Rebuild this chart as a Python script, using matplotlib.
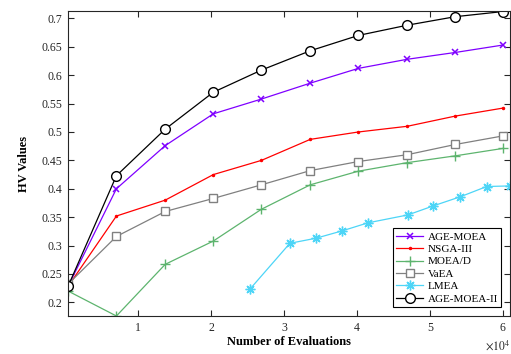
import numpy as np
import matplotlib
matplotlib.use("Agg")
import matplotlib.pyplot as plt
from matplotlib.ticker import FuncFormatter

plt.rcParams["font.family"] = ["Liberation Serif", "DejaVu Serif"]
plt.rcParams["mathtext.fontset"] = "stix"

# evaluations (shared by most algorithms) and HV values
evals = [360, 7000, 13700, 20300, 26900, 33600, 40200, 46900, 53500, 60000]
evals_lmea = [25300, 30800, 34400, 38000, 41500, 47000, 50500, 54200, 57800, 61000]

hv_agemoea = [0.228, 0.400, 0.476, 0.532, 0.558, 0.586, 0.612, 0.628, 0.640, 0.653]
hv_nsga3 = [0.228, 0.352, 0.380, 0.425, 0.450, 0.487, 0.500, 0.510, 0.528, 0.542]
hv_moead = [0.220, 0.176, 0.267, 0.308, 0.364, 0.407, 0.431, 0.446, 0.458, 0.471]
hv_vaea = [0.232, 0.316, 0.360, 0.383, 0.407, 0.432, 0.448, 0.460, 0.478, 0.493]
hv_lmea = [0.223, 0.304, 0.313, 0.326, 0.340, 0.354, 0.370, 0.386, 0.404, 0.405]
hv_agemoea2 = [0.228, 0.423, 0.505, 0.570, 0.609, 0.643, 0.670, 0.688, 0.703, 0.712]

fig = plt.figure(figsize=(5.11, 3.54), dpi=100)
ax = fig.add_axes([68 / 511, 38 / 354, 442 / 511, 305 / 354])

lw = 0.9
ax.plot(evals, hv_agemoea, color="#7F00FF", marker="x", ms=5, mew=1.1, lw=lw, label="AGE-MOEA")
ax.plot(evals, hv_nsga3, color="#FF0000", marker=".", ms=3, lw=lw, label="NSGA-III")
ax.plot(evals, hv_moead, color="#5DB46E", marker="+", ms=7, mew=1.0, lw=lw, label="MOEA/D")
ax.plot(evals, hv_vaea, color="#808080", marker="s", ms=6, mfc="white", mew=1.0, lw=lw, label="VaEA")
ax.plot(evals_lmea, hv_lmea, color="#4DD5F7", marker=(8, 2, 0), ms=7, mew=1.0, lw=lw, label="LMEA")
ax.plot(evals, hv_agemoea2, color="black", marker="o", ms=7, mfc="white", mew=1.0, lw=lw, label="AGE-MOEA-II")

ax.set_xlim(360, 61000)
ax.set_ylim(0.176, 0.713)
ax.set_xticks([10000, 20000, 30000, 40000, 50000, 60000])
ax.set_yticks(np.arange(0.2, 0.701, 0.05))
ax.xaxis.set_major_formatter(FuncFormatter(lambda v, p: f"{v / 1e4:g}"))
ax.yaxis.set_major_formatter(FuncFormatter(lambda v, p: f"{v:g}"))

axcol = "#262626"
for s in ax.spines.values():
    s.set_color(axcol)
    s.set_linewidth(0.8)
ax.tick_params(direction="in", top=True, right=True, length=4, width=0.8,
               colors=axcol, labelsize=8.5, pad=4)

ax.set_xlabel("Number of Evaluations", fontweight="bold", fontsize=9, labelpad=2)
ax.set_ylabel("HV Values", fontweight="bold", fontsize=9, labelpad=8)
ax.text(1.0, -0.075, r"$\times10^{4}$", transform=ax.transAxes, ha="right", va="top",
        fontsize=8.5, color=axcol)

leg = ax.legend(loc="lower right", fontsize=8, frameon=True, fancybox=False,
                edgecolor="black", framealpha=1, handlelength=2.4, labelspacing=0.24,
                borderpad=0.3, handletextpad=0.4, borderaxespad=0.8)
leg.get_frame().set_linewidth(0.8)

fig.savefig("out.png", dpi=100)
